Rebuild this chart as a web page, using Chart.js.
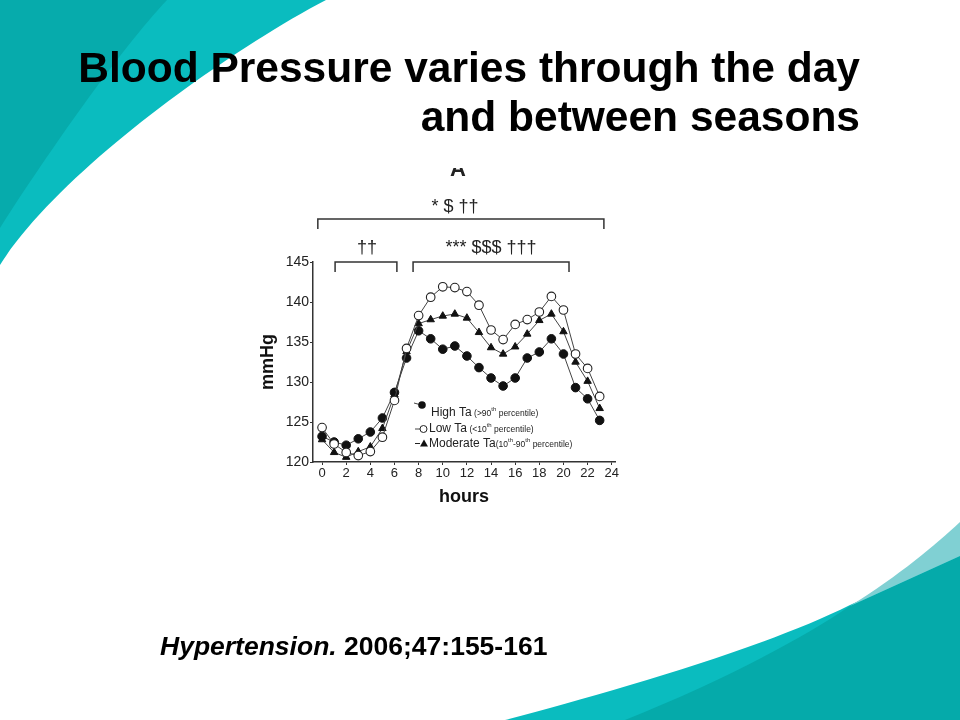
<!DOCTYPE html>
<html lang="en">
<head>
  <meta charset="UTF-8" />
  <title>Blood Pressure varies through the day</title>
  <script src="https://cdn.jsdelivr.net/npm/chart.js"></script>
  <style>
    body {
      margin: 0;
      width: 960px;
      height: 720px;
      overflow: hidden;
      background: #fff;
      font-family: 'Liberation Sans', Arial, sans-serif;
      position: relative;
    }
    #bg, #chart {
      position: absolute;
      left: 0;
      top: 0;
    }
    #title {
      position: absolute;
      right: 100px;
      top: 43px;
      font-size: 42.5px;
      font-weight: bold;
      line-height: 49px;
      text-align: right;
      color: #000;
    }
    #cite {
      position: absolute;
      left: 160px;
      top: 631px;
      font-size: 26.5px;
      font-weight: bold;
      color: #000;
    }
  </style>
</head>
<body>
  <svg id="bg" width="960" height="720">
    <path d="M0,0 L326,0 C230,50 60,170 0,265 Z" fill="#0abcbf" />
    <path d="M0,0 L167,0 C120,50 50,150 0,228 Z" fill="#06abac" />
    <path d="M505,720 C600,695 760,650 850,605 L960,555 L960,720 Z" fill="#0abcbf" />
    <path d="M625,720 C720,682 800,640 850,606 L960,556 L960,720 Z" fill="#05aaaa" />
    <path d="M850,606 C900,575 935,545 960,522 L960,556 Z" fill="#80d0d3" />
  </svg>

  <canvas id="chart" width="960" height="720"></canvas>

  <div id="title">Blood Pressure varies through the day<br>and between seasons</div>
  <div id="cite"><i>Hypertension.</i> 2006;47:155-161</div>

  <script>
    // hourly mean BP (mmHg)
    const hours = [0, 1, 2, 3, 4, 5, 6, 7, 8, 9, 10, 11, 12, 13, 14, 15, 16, 17, 18, 19, 20, 21, 22, 23];
    const highTa = [123.2, 122.5, 122.1, 122.9, 123.75, 125.5, 128.7, 133.0, 136.4, 135.4, 134.1, 134.5, 133.25, 131.8, 130.5, 129.5, 130.5, 133.0, 133.75, 135.4, 133.5, 129.3, 127.9, 125.2];
    const lowTa = [124.3, 122.25, 121.2, 120.8, 121.3, 123.1, 127.7, 134.2, 138.3, 140.6, 141.9, 141.8, 141.3, 139.6, 136.5, 135.3, 137.2, 137.8, 138.75, 140.7, 139.0, 133.5, 131.7, 128.2];
    const moderateTa = [122.8, 121.2, 120.6, 121.3, 121.9, 124.2, 128.4, 133.8, 137.3, 137.8, 138.25, 138.5, 138.0, 136.2, 134.3, 133.5, 134.4, 136.0, 137.7, 138.5, 136.3, 132.5, 130.1, 126.7];

    const xTicks = [0, 2, 4, 6, 8, 10, 12, 14, 16, 18, 20, 22, 24];
    const yTicks = [120, 125, 130, 135, 140, 145];

    // significance brackets (in hours) and their marks
    const topBracket = [-0.35, 23.35];
    const topMarks = '* $ \u2020\u2020';
    const lowBrackets = [[1.08, 6.2], [7.54, 20.46]];
    const lowMarks = ['\u2020\u2020', '*** $$$ \u2020\u2020\u2020'];

    const ink = '#222';
    const lineCol = '#444';

    function pts(values) {
      return hours.map((h, i) => ({ x: h, y: values[i] }));
    }

    const annotations = {
      id: 'annotations',
      afterDraw(chart) {
        const ctx = chart.ctx;
        const x = chart.scales.x;
        const top = chart.chartArea.top;
        ctx.save();
        ctx.strokeStyle = '#333';
        ctx.lineWidth = 1.5;
        ctx.fillStyle = ink;
        ctx.textAlign = 'center';

        // panel letter, cut off at the top like the cropped figure
        ctx.save();
        ctx.beginPath();
        ctx.rect(400, 168, 120, 20);
        ctx.clip();
        ctx.font = 'bold 22px "Liberation Sans", Arial';
        ctx.fillText('A', 458, 176);
        ctx.restore();

        function bracket(a, b, y, drop) {
          const xa = x.getPixelForValue(a), xb = x.getPixelForValue(b);
          ctx.beginPath();
          ctx.moveTo(xa, y + drop);
          ctx.lineTo(xa, y);
          ctx.lineTo(xb, y);
          ctx.lineTo(xb, y + drop);
          ctx.stroke();
        }

        ctx.font = '18px "Liberation Sans", Arial';
        bracket(topBracket[0], topBracket[1], top - 43, 10);
        ctx.fillText(topMarks, 455, top - 50);

        ctx.fillText(lowMarks[0], 367, top - 9);
        ctx.fillText(lowMarks[1], 491, top - 9);
        lowBrackets.forEach(br => bracket(br[0], br[1], top, 10));

        // legend
        ctx.textAlign = 'left';
        ctx.lineWidth = 1;
        ctx.strokeStyle = lineCol;
        const rows = [
          { y: 413, main: 'High Ta', pre: ' (>90', sup: 'th', post: ' percentile)' },
          { y: 429, main: 'Low Ta', pre: ' (<10', sup: 'th', post: ' percentile)' },
          { y: 444, main: 'Moderate Ta', pre: '(10', sup: 'th', post: '-90', sup2: 'th', post2: ' percentile)' }
        ];
        ctx.beginPath(); ctx.moveTo(414, 403); ctx.lineTo(425, 406); ctx.stroke();
        ctx.beginPath(); ctx.arc(422, 405, 3.8, 0, Math.PI * 2); ctx.fillStyle = '#111'; ctx.fill();
        ctx.beginPath(); ctx.moveTo(415, 429); ctx.lineTo(420, 429); ctx.stroke();
        ctx.beginPath(); ctx.arc(423.5, 429, 3.5, 0, Math.PI * 2); ctx.fillStyle = '#fff'; ctx.fill(); ctx.strokeStyle = '#222'; ctx.stroke();
        ctx.beginPath(); ctx.moveTo(415, 443.5); ctx.lineTo(420, 443.5); ctx.stroke();
        ctx.beginPath(); ctx.moveTo(424, 439.5); ctx.lineTo(428, 446.5); ctx.lineTo(420, 446.5); ctx.closePath(); ctx.fillStyle = '#111'; ctx.fill();

        ctx.fillStyle = ink;
        ctx.textBaseline = 'middle';
        const startX = [431, 429, 429];
        rows.forEach((r, i) => {
          let cx = startX[i];
          ctx.font = '12px "Liberation Sans", Arial';
          ctx.fillText(r.main, cx, r.y);
          cx += ctx.measureText(r.main).width;
          const parts = [[r.pre, 0], [r.sup, 1], [r.post, 0], [r.sup2, 1], [r.post2, 0]];
          parts.forEach(([t, s]) => {
            if (!t) return;
            ctx.font = (s ? '6px' : '8.5px') + ' "Liberation Sans", Arial';
            ctx.fillText(t, cx, r.y + (s ? -4 : 1));
            cx += ctx.measureText(t).width;
          });
        });
        ctx.restore();
      }
    };

    new Chart(document.getElementById('chart'), {
      type: 'line',
      data: {
        datasets: [
          {
            label: 'Low Ta (<10th percentile)',
            data: pts(lowTa),
            borderColor: lineCol, borderWidth: 1,
            pointStyle: 'circle', pointRadius: 4.3,
            pointBackgroundColor: '#fff', pointBorderColor: '#222', pointBorderWidth: 1.1
          },
          {
            label: 'Moderate Ta (10th-90th percentile)',
            data: pts(moderateTa),
            borderColor: lineCol, borderWidth: 1,
            pointStyle: 'triangle', pointRadius: 4.3,
            pointBackgroundColor: '#111', pointBorderColor: '#111', pointBorderWidth: 1
          },
          {
            label: 'High Ta (>90th percentile)',
            data: pts(highTa),
            borderColor: lineCol, borderWidth: 1,
            pointStyle: 'circle', pointRadius: 4.3,
            pointBackgroundColor: '#111', pointBorderColor: '#111', pointBorderWidth: 1
          }
        ]
      },
      options: {
        responsive: false,
        animation: false,
        layout: { autoPadding: false, padding: { left: 253, top: 262, right: 345, bottom: 208 } },
        plugins: { legend: { display: false }, tooltip: { enabled: false } },
        scales: {
          x: {
            type: 'linear',
            min: -0.75,
            max: 24.27,
            afterFit: s => { s.height = 50; },
            afterBuildTicks: s => { s.ticks = xTicks.map(v => ({ value: v })); },
            grid: { display: true, drawOnChartArea: false, drawTicks: true, tickLength: 3, color: '#333' },
            border: { color: '#333', width: 1.5 },
            ticks: { color: ink, font: { size: 13, family: '"Liberation Sans", Arial' }, padding: 1, maxRotation: 0 },
            title: { display: true, text: 'hours', color: '#111', font: { size: 18, weight: 'bold', family: '"Liberation Sans", Arial' }, padding: { top: 2 } }
          },
          y: {
            min: 120,
            max: 145,
            afterFit: s => { s.width = 60; },
            afterBuildTicks: s => { s.ticks = yTicks.map(v => ({ value: v })); },
            grid: { display: true, drawOnChartArea: false, drawTicks: true, tickLength: 3, color: '#333' },
            border: { color: '#333', width: 1.5 },
            ticks: { color: ink, font: { size: 14, family: '"Liberation Sans", Arial' }, padding: 1 },
            title: { display: true, text: 'mmHg', color: '#111', font: { size: 18, weight: 'bold', family: '"Liberation Sans", Arial' }, padding: { top: 4 } }
          }
        }
      },
      plugins: [annotations]
    });
  </script>
</body>
</html>
